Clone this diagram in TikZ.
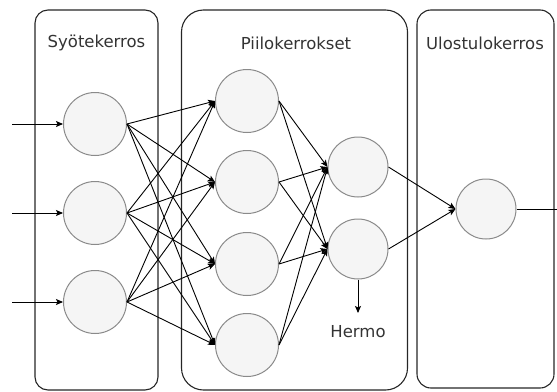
\documentclass[tikz,border=0pt]{standalone}
\usepackage{fontspec}
\setmainfont{DejaVu Sans}
\usepackage{tikz}
\usetikzlibrary{arrows.meta,positioning}

\definecolor{nodefill}{HTML}{F5F5F5}
\definecolor{nodeline}{HTML}{8A8A8A}
\definecolor{textgray}{HTML}{333333}

\begin{document}
\begin{tikzpicture}[x=1pt,y=-1pt,>={Stealth[length=7pt,width=6pt,inset=1.5pt]},
                    line width=0.9pt,
                    neuron/.style={circle,fill=nodefill,draw=nodeline,line width=1pt,inner sep=0pt,minimum size=63pt},
                    small neuron/.style={neuron,minimum size=60pt},
                    layer box/.style={draw=black!85,line width=1.1pt,rounded corners=#1,inner sep=0pt},
                    title/.style={font=\fontsize{16.5}{20}\selectfont,text=textgray}]
\useasboundingbox (0,0) rectangle (557,391);

% layer boxes
\node[layer box=13pt,minimum width=123pt,minimum height=380pt] (inbox) at (96.5,200) {};
\node[layer box=22pt,minimum width=226pt,minimum height=380pt] (hidbox) at (294.5,200) {};
\node[layer box=14pt,minimum width=137pt,minimum height=378pt] (outbox) at (485.5,199) {};

\node[title] (inTitle) at (96.5,43) {Syötekerros};
\node[title] (hidTitle) at (296,43) {Piilokerrokset};
\node[title] (outTitle) at (485,43) {Ulostulokerros};

% neurons
\foreach \i/\y in {1/124,2/213,3/302}
   {\node[neuron] (in\i) at (95,\y) {};
    \coordinate (src\i) at (12,\y);}
\foreach \j/\y in {1/101,2/182,3/264,4/345}
   \node[neuron] (ha\j) at (247,\y) {};
\foreach \k/\y in {1/167,2/249}
   \node[small neuron] (hb\k) at (358,\y) {};
\node[small neuron] (out) at (486,209) {};

% connections
\foreach \i in {1,2,3}
   {\draw[->] (src\i) -- (in\i.west);
    \foreach \j in {1,...,4}
       \draw[->] (in\i.east) -- (ha\j.west);}
\foreach \j in {1,...,4}
   \foreach \k in {1,2}
      \draw[->] (ha\j.east) -- (hb\k.west);
\foreach \k in {1,2}
   \draw[->] (hb\k.east) -- (out.west);

\coordinate (outEnd) at (557,209);
\draw (out.east) -- (outEnd);

\node[title] (hermo) at (358,332) {Hermo};
\coordinate (hermoTip) at (358,313);
\draw[->] (hb2.south) -- (hermoTip);

\end{tikzpicture}
\end{document}
